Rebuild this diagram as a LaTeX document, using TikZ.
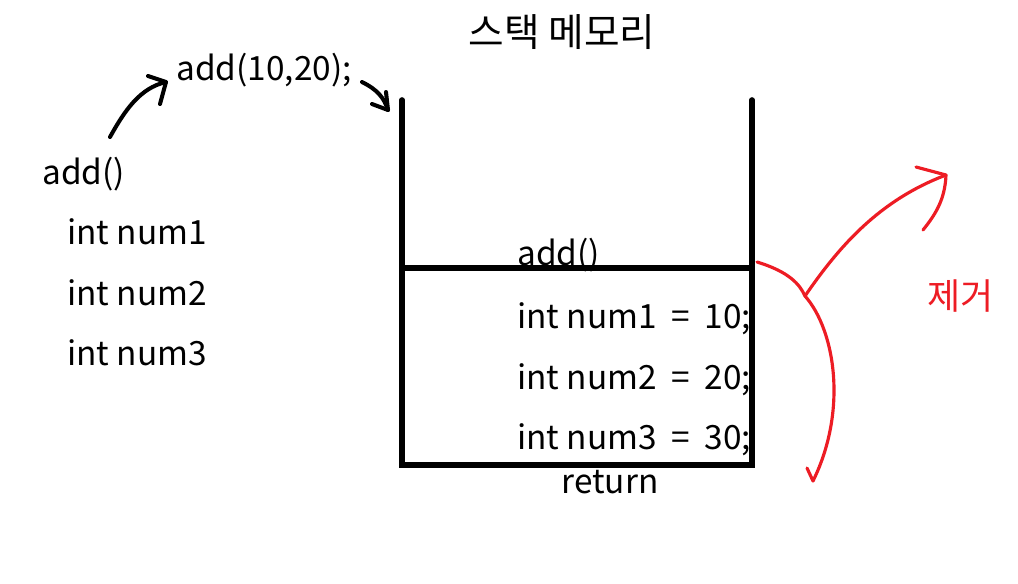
\documentclass[tikz,border=0pt]{standalone}
\usepackage{fontspec}
\setmainfont{Noto Sans CJK KR}
\usetikzlibrary{arrows.meta}

\definecolor{paintred}{RGB}{237,28,36}

\begin{document}
\begin{tikzpicture}[x=0.02cm, y=-0.02cm, every node/.style={inner sep=0pt, font=\fontsize{19}{21}\selectfont}]
    \useasboundingbox (0,0) rectangle (1018,583);
    % Styles
    \tikzset{
        wall/.style={line width=3.2pt, line cap=round},
        pen/.style={line width=2.3pt, line cap=round, line join=round},
        redpen/.style={line width=1.8pt, paintred, line cap=round, line join=round},
        code/.style={anchor=base west}
    }
    % Title
    \node[anchor=base, font=\fontsize{22}{24}\selectfont] (title) at (562,46) {스택 메모리};
    % Function on the left
    \node[code] (call) at (176,80) {add(10,20);};
    \node[code] (fn) at (42,184) {add()};
    \foreach \i/\y in {1/244, 2/305, 3/365}
    {
        \node[code] (var\i) at (67,\y) {int num\i};
    }
    % Stack walls
    \coordinate (tl) at (402,100);
    \coordinate (tr) at (752,100);
    \coordinate (ml) at (402,268);
    \coordinate (mr) at (752,268);
    \coordinate (bl) at (402,465);
    \coordinate (br) at (752,465);
    \draw[wall] (tl) -- (bl) -- (br) -- (tr);
    \draw[wall] (ml) -- (mr);
    % Frame contents
    \node[code] (frame) at (517,265) {add()};
    \foreach \i/\v/\y in {1/10/328, 2/20/389, 3/30/449}
    {
        \node[code] (slot\i) at (517,\y) {int num\i\hspace{4pt} =\hspace{4pt} \v;};
    }
    \node[anchor=base] (ret) at (610,493) {return};
    % Call arrows
    \coordinate (a1) at (110,137);
    \coordinate (a2) at (166,82);
    \draw[pen] (a1) .. controls (125,110) and (140,88) .. (a2);
    \draw[pen] (148,76) -- (a2) -- (160,104);
    \coordinate (b1) at (362,82);
    \coordinate (b2) at (388,110);
    \draw[pen] (b1) .. controls (378,90) and (384,98) .. (b2);
    \draw[pen] (372,104) -- (b2) -- (386,92);
    % Removal
    \node[code, text=paintred, font=\fontsize{20.5}{22}\selectfont] (remove) at (927,309) {제거};
    \coordinate (r0) at (757,262);
    \coordinate (r1) at (805,296);
    \coordinate (r2) at (813,481);
    \draw[redpen] (r0) .. controls (790,272) and (800,285) .. (r1)
        .. controls (835,330) and (848,410) .. (r2);
    \draw[redpen] (807,468) -- (r2);
    \coordinate (r3) at (946,175);
    \draw[redpen] (r1) .. controls (840,245) and (880,200) .. (r3);
    \draw[redpen] (916,167) -- (r3) .. controls (945,200) and (935,215) .. (923,230);
\end{tikzpicture}
\end{document}
